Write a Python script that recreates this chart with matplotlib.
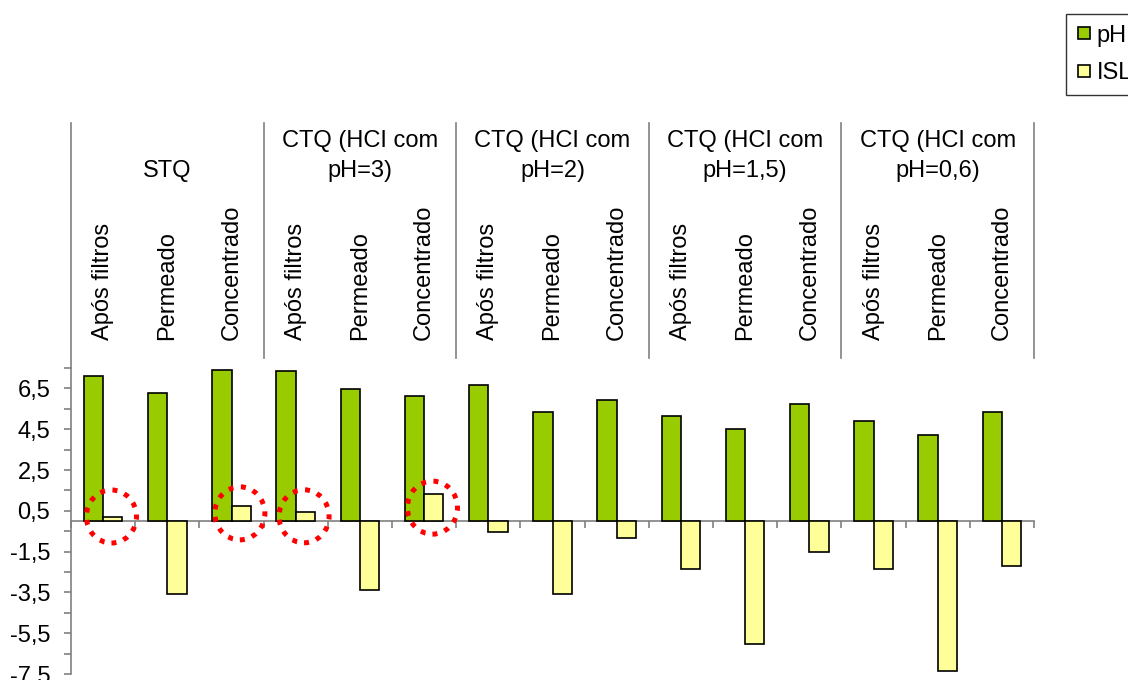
import numpy as np
import matplotlib
matplotlib.use("Agg")
import matplotlib.pyplot as plt
from matplotlib.patches import Ellipse
from matplotlib.lines import Line2D
from matplotlib.transforms import blended_transform_factory

plt.rcParams["font.family"] = ["Liberation Sans", "DejaVu Sans"]

# -----------------------------
# Data
# -----------------------------

groups = ["STQ", "CTQ (HCI com\npH=3)", "CTQ (HCI com\npH=2)",
          "CTQ (HCI com\npH=1,5)", "CTQ (HCI com\npH=0,6)"]
stages = ["Após filtros", "Permeado", "Concentrado"]

ph = [7.12, 6.29, 7.42,
      7.34, 6.49, 6.11,
      6.67, 5.34, 5.93,
      5.16, 4.51, 5.74,
      4.89, 4.23, 5.34]

isl = [0.18, -3.58, 0.75,
       0.46, -3.38, 1.31,
       -0.55, -3.58, -0.85,
       -2.37, -6.03, -1.50,
       -2.37, -7.35, -2.19]

ytick_values = np.arange(-7.5, 7.6, 1.0)

GREEN = "#99CC00"
YELLOW = "#FFFF99"
GREY = "#808080"
FS = 17

# -----------------------------
# Figure
# -----------------------------

fig = plt.figure(figsize=(11.28, 6.8), dpi=100)
ax = fig.add_axes([71 / 1128, 1 - 674 / 680, 963 / 1128, 306 / 680])

x = np.arange(len(ph))
w = 0.3
ax.bar(x - w / 2, ph, width=w, color=GREEN, edgecolor="black", linewidth=1.2, zorder=3)
ax.bar(x + w / 2, isl, width=w, color=YELLOW, edgecolor="black", linewidth=1.2, zorder=3)

ax.set_xlim(-0.5, len(ph) - 0.5)
ax.set_ylim(-7.5, 7.5)

# axes look like the Excel original
for side in ["top", "right"]:
    ax.spines[side].set_visible(False)
ax.spines["bottom"].set_position(("data", 0))
ax.spines["bottom"].set_color(GREY)
ax.spines["left"].set_color(GREY)
ax.spines["bottom"].set_linewidth(1.2)
ax.spines["left"].set_linewidth(1.2)

ax.set_xticks(np.arange(-0.5, len(ph), 1.0))
ax.set_xticklabels([])
ax.tick_params(axis="x", direction="out", length=5, color=GREY, width=1.2)

ax.set_yticks(ytick_values)
ax.set_yticklabels([f"{v:.1f}".replace(".", ",") if round(v - 6.5) % 2 == 0 else ""
                    for v in ytick_values])
ax.tick_params(axis="y", direction="out", length=5, color=GREY, width=1.2,
               labelsize=FS, pad=10)

# -----------------------------
# Multi-level category labels above the plot
# -----------------------------

trans = blended_transform_factory(ax.transData, fig.transFigure)
y_top = 1 - 123 / 680
y_sep = 1 - 358 / 680

ax.plot([-0.5, -0.5], [y_top, 1 - 368 / 680], color=GREY, lw=1.2,
        transform=trans, clip_on=False)
for b in np.arange(2.5, len(ph), 3):
    ax.plot([b, b], [y_top, y_sep], color=GREY, lw=1.2,
            transform=trans, clip_on=False)

for i in x:
    ax.text(i, 1 - 340 / 680, stages[i % 3], rotation=90, ha="center",
            va="bottom", fontsize=FS, transform=trans)

for g, name in enumerate(groups):
    ax.text(3 * g + 1, 1 - 182 / 680, name, ha="center", va="bottom",
            multialignment="center", linespacing=1.5, fontsize=FS,
            transform=trans)

# red dotted circles around the positive ISL values
for i, v in enumerate(isl):
    if v > 0:
        ax.add_patch(Ellipse((i + 0.13, max(v / 2, 0.22)), width=0.78, height=2.6,
                             fill=False, edgecolor="red", linewidth=3.6,
                             linestyle=(0, (1, 1.5)), zorder=4))

# -----------------------------
# Legend (cut by the right edge, as in the original)
# -----------------------------

handles = [Line2D([], [], marker="s", linestyle="none", markersize=9,
                  markerfacecolor=c, markeredgecolor="black", markeredgewidth=1.2)
           for c in (GREEN, YELLOW)]
leg = fig.legend(handles, ["pH", "ISL"], loc="upper left",
                 bbox_to_anchor=(1066 / 1128, 1 - 14 / 680), fontsize=FS,
                 frameon=True, fancybox=False, handlelength=0.6,
                 handletextpad=0.25, labelspacing=0.65, borderpad=0.45,
                 borderaxespad=0)
leg.get_frame().set_edgecolor("black")
leg.get_frame().set_linewidth(1.0)

fig.savefig("out.png", dpi=100)
